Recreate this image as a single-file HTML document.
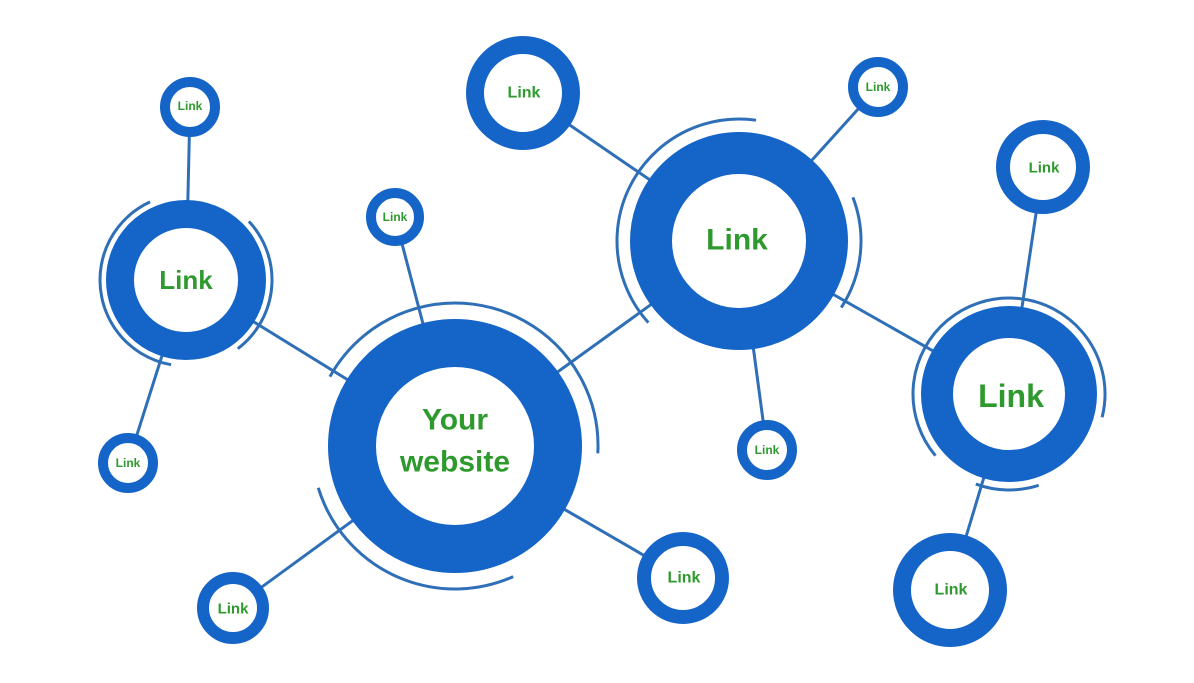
<!DOCTYPE html>
<html><head><meta charset="utf-8"><style>
html,body{margin:0;padding:0;background:#fff;}
svg{display:block;}
text{font-family:"Liberation Sans",sans-serif;font-weight:bold;fill:#2e9a2e;text-anchor:middle;dominant-baseline:central;}
</style></head><body>
<svg width="1194" height="683" viewBox="0 0 1194 683">
<g stroke="#2f6fb8" stroke-width="3">
<line x1="455" y1="446" x2="395" y2="217"/>
<line x1="455" y1="446" x2="186" y2="280"/>
<line x1="455" y1="446" x2="233" y2="608"/>
<line x1="455" y1="446" x2="683" y2="578"/>
<line x1="455" y1="446" x2="739" y2="241"/>
<line x1="186" y1="280" x2="190" y2="107"/>
<line x1="186" y1="280" x2="128" y2="463"/>
<line x1="739" y1="241" x2="523" y2="93"/>
<line x1="739" y1="241" x2="878" y2="87"/>
<line x1="739" y1="241" x2="767" y2="450"/>
<line x1="739" y1="241" x2="1009" y2="394"/>
<line x1="1009" y1="394" x2="1043" y2="167"/>
<line x1="1009" y1="394" x2="950" y2="590"/>
</g>
<g fill="none" stroke="#2f6fb8" stroke-width="3">
<circle cx="455" cy="446" r="143" stroke-dasharray="384 2000" transform="rotate(209 455 446)"/>
<circle cx="455" cy="446" r="143" stroke-dasharray="242 2000" transform="rotate(66 455 446)"/>
<circle cx="739" cy="241" r="122" stroke-dasharray="298 2000" transform="rotate(138 739 241)"/>
<circle cx="739" cy="241" r="122" stroke-dasharray="115 2000" transform="rotate(339 739 241)"/>
<circle cx="186" cy="280" r="86" stroke-dasharray="218 2000" transform="rotate(100 186 280)"/>
<circle cx="186" cy="280" r="86" stroke-dasharray="144 2000" transform="rotate(317 186 280)"/>
<circle cx="1009" cy="394" r="96" stroke-dasharray="392 2000" transform="rotate(140 1009 394)"/>
<circle cx="1009" cy="394" r="96" stroke-dasharray="64 2000" transform="rotate(72 1009 394)"/>
</g>
<g fill="#fff" stroke="#1565c8">
<circle cx="455" cy="446" r="103" stroke-width="48"/>
<circle cx="739" cy="241" r="88" stroke-width="42"/>
<circle cx="186" cy="280" r="66" stroke-width="28"/>
<circle cx="1009" cy="394" r="72" stroke-width="32"/>
<circle cx="190" cy="107" r="25" stroke-width="10"/>
<circle cx="395" cy="217" r="24" stroke-width="10"/>
<circle cx="128" cy="463" r="25" stroke-width="10"/>
<circle cx="233" cy="608" r="30" stroke-width="12"/>
<circle cx="683" cy="578" r="39" stroke-width="14"/>
<circle cx="523" cy="93" r="48" stroke-width="18"/>
<circle cx="878" cy="87" r="25" stroke-width="10"/>
<circle cx="1043" cy="167" r="40" stroke-width="14"/>
<circle cx="767" cy="450" r="25" stroke-width="10"/>
<circle cx="950" cy="590" r="48" stroke-width="18"/>
</g>
<text x="455" y="420" font-size="30">Your</text>
<text x="455" y="462" font-size="30">website</text>
<text x="737" y="240" font-size="30">Link</text>
<text x="186" y="280" font-size="26">Link</text>
<text x="1011" y="396" font-size="32">Link</text>
<text x="190" y="106" font-size="12">Link</text>
<text x="395" y="217" font-size="12">Link</text>
<text x="128" y="463" font-size="12">Link</text>
<text x="233" y="609" font-size="15">Link</text>
<text x="684" y="578" font-size="16">Link</text>
<text x="524" y="93" font-size="16">Link</text>
<text x="878" y="87" font-size="12">Link</text>
<text x="1044" y="168" font-size="15">Link</text>
<text x="767" y="450" font-size="12">Link</text>
<text x="951" y="590" font-size="16">Link</text>
</svg>
</body></html>
